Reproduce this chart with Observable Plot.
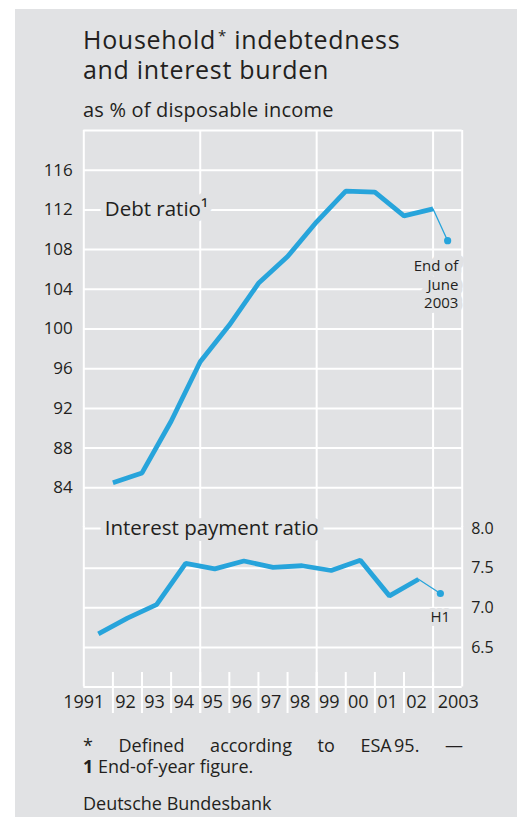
<!DOCTYPE html>
<html>
<head>
<meta charset="utf-8">
<script src="https://cdn.jsdelivr.net/npm/d3@7"></script>
<script src="https://cdn.jsdelivr.net/npm/@observablehq/plot@0.6"></script>
<style>
  html, body { margin: 0; padding: 0; background: #ffffff; }
  body { width: 517px; height: 817px; position: relative; overflow: hidden; font-family: "Open Sans", sans-serif; color: #231f20; }
  #bg { position: absolute; left: 15px; top: 9px; width: 502px; height: 808px; background: #e1e2e4; }
  .abs { position: absolute; }
  #title { left: 83px; top: 19.6px; font-size: 25px; line-height: 30px; letter-spacing: 0.7px; white-space: nowrap; }
  #title .ast { font-size: 15px; vertical-align: 8px; margin-left: 2px; }
  #subtitle { left: 83px; top: 98px; font-size: 20px; line-height: 24px; letter-spacing: 0.2px; white-space: nowrap; }
  #plot1 { left: 0; top: 100px; }
  #plot2 { left: 0; top: 500px; }
  .foot { left: 83px; width: 380px; font-size: 18px; line-height: 18px; }
  #f1 { top: 735.7px; text-align: justify; text-align-last: justify; }
  #f2 { top: 756.5px; white-space: nowrap; }
  #src { top: 794px; white-space: nowrap; }
</style>
</head>
<body>
<div id="bg"></div>
<div id="title" class="abs">Household<span class="ast">*</span> indebtedness<br>and interest burden</div>
<div id="subtitle" class="abs">as % of disposable income</div>
<div id="plot1" class="abs"></div>
<div id="plot2" class="abs"></div>
<div id="f1" class="abs foot">* Defined according to ESA&#8239;95. —</div>
<div id="f2" class="abs foot"><b>1</b> End-of-year figure.</div>
<div id="src" class="abs foot">Deutsche Bundesbank</div>
<script>
// ---- data ----
const years = [1991, 1992, 1993, 1994, 1995, 1996, 1997, 1998, 1999, 2000, 2001, 2002];
// Debt ratio, end-of-year figure, % of disposable income
const debtRatio = [84.5, 85.5, 90.7, 96.7, 100.4, 104.6, 107.3, 110.8, 113.9, 113.8, 111.4, 112.1];
const debtLatest = 108.9;            // end of June 2003
// Interest payment ratio, annual, % of disposable income
const interestRatio = [6.67, 6.87, 7.04, 7.56, 7.49, 7.59, 7.51, 7.53, 7.47, 7.60, 7.15, 7.36];
const interestLatest = 7.18;         // 2003 H1
const debtTicks = [84, 88, 92, 96, 100, 104, 108, 112, 116];
const interestTicks = [6.5, 7.0, 7.5, 8.0];
const xLabels = ["1991", "92", "93", "94", "95", "96", "97", "98", "99", "00", "01", "02", "2003"];

// ---- style ----
const BLUE = "#27a4db";
const BG = "#e1e2e4";
const INK = "#231f20";
const GRID = "white";
const FONT = "Open Sans";

const debt = years.map((y, i) => ({t: y + 1, v: debtRatio[i]}));        // end of year
const debtTail = [{t: 2003, v: debtRatio[debtRatio.length - 1]}, {t: 2003.5, v: debtLatest}];
const interest = years.map((y, i) => ({t: y + 0.5, v: interestRatio[i]})); // annual
const interestTail = [{t: 2002.5, v: interestRatio[interestRatio.length - 1]}, {t: 2003.25, v: interestLatest}];
const boundaries = d3.range(1992, 2004);
const labelData = xLabels.map((s, i) => ({s, t: 1991 + i + 0.5}));

const common = {
  width: 517,
  marginLeft: 83.3,
  marginRight: 55.3,
  x: {domain: [1991, 2004], axis: null},
  style: {background: "none", fontFamily: FONT, overflow: "visible", color: INK}
};

const p1 = Plot.plot({
  ...common,
  height: 440,
  marginTop: 30,
  marginBottom: 13,
  y: {domain: [80, 120], axis: null},
  marks: [
    Plot.ruleY(debtTicks, {stroke: GRID, strokeWidth: 2}),
    Plot.ruleX([1995, 1999, 2003], {stroke: GRID, strokeWidth: 2}),
    Plot.ruleX([1991, 2004], {stroke: GRID, strokeWidth: 2}),
    Plot.ruleY([120], {stroke: GRID, strokeWidth: 2}),
    Plot.axisY({ticks: debtTicks, anchor: "left", tickSize: 0, tickPadding: 11, fontSize: 17, fill: INK, tickFormat: d => String(d), label: null}),
    Plot.text(["Debt ratio¹"], {x: 1991.72, y: 112, text: d => d, textAnchor: "start", fontSize: 20.5, fill: INK, stroke: BG, strokeWidth: 12}),
    Plot.text(["End of\nJune\n2003"], {x: 2003.87, y: 107.2, text: d => d, textAnchor: "end", lineAnchor: "top", lineHeight: 1.25, fontSize: 15, fill: INK, stroke: BG, strokeWidth: 10}),
    Plot.line(debtTail, {x: "t", y: "v", stroke: BLUE, strokeWidth: 1.3}),
    Plot.line(debt, {x: "t", y: "v", stroke: BLUE, strokeWidth: 4.8, strokeLinecap: "butt", strokeLinejoin: "miter"}),
    Plot.dot([debtTail[1]], {x: "t", y: "v", r: 3.6, fill: BLUE})
  ]
});
document.getElementById("plot1").append(p1);

const p2 = Plot.plot({
  ...common,
  height: 230,
  marginTop: 28,
  marginBottom: 43.5,
  y: {domain: [6, 8], axis: null},
  marks: [
    Plot.ruleY(interestTicks, {stroke: GRID, strokeWidth: 2}),
    Plot.ruleY([6], {stroke: GRID, strokeWidth: 2}),
    Plot.ruleX([1991, 2004], {stroke: GRID, strokeWidth: 2, insetTop: -2}),
    Plot.ruleX([1995, 1999, 2003], {stroke: GRID, strokeWidth: 2, insetTop: -2, insetBottom: -26.5}),
    Plot.ruleX(boundaries, {stroke: GRID, strokeWidth: 2, insetTop: 144, insetBottom: -26.5}),
    Plot.axisY({ticks: interestTicks, anchor: "right", tickSize: 0, tickPadding: 9, fontSize: 16, fill: INK, tickFormat: d3.format(".1f"), label: null}),
    Plot.text(["Interest payment ratio"], {x: 1991.72, y: 8, text: d => d, textAnchor: "start", fontSize: 20.5, fill: INK, stroke: BG, strokeWidth: 12}),
    Plot.text(["H1"], {x: 2003.25, y: 6.88, text: d => d, textAnchor: "middle", fontSize: 15, fill: INK, stroke: BG, strokeWidth: 8}),
    Plot.line(interestTail, {x: "t", y: "v", stroke: BLUE, strokeWidth: 1.3}),
    Plot.line(interest, {x: "t", y: "v", stroke: BLUE, strokeWidth: 4.8, strokeLinecap: "butt", strokeLinejoin: "miter"}),
    Plot.dot([interestTail[1]], {x: "t", y: "v", r: 3.6, fill: BLUE}),
    Plot.text(labelData.slice(1, -1), {x: "t", text: "s", frameAnchor: "bottom", dy: 20.5, dx: -2, fontSize: 18, fill: INK}),
    Plot.text(labelData.slice(0, 1), {x: "t", text: "s", frameAnchor: "bottom", dy: 20.5, dx: 6, textAnchor: "end", fontSize: 18, fill: INK}),
    Plot.text(labelData.slice(-1), {x: "t", text: "s", frameAnchor: "bottom", dy: 20.5, dx: -10, textAnchor: "start", fontSize: 18, fill: INK})
  ]
});
document.getElementById("plot2").append(p2);
</script>
</body>
</html>
